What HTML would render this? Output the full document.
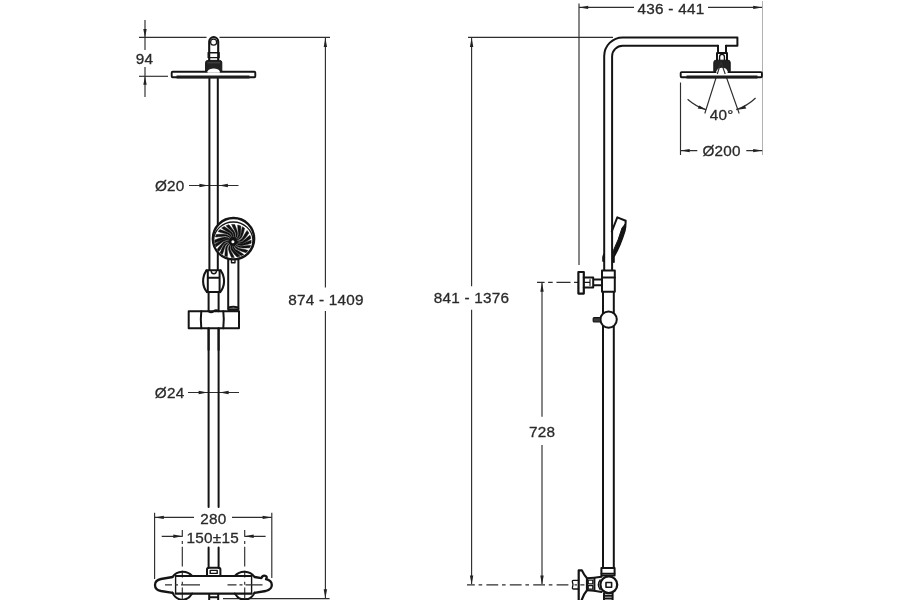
<!DOCTYPE html>
<html>
<head>
<meta charset="utf-8">
<title>Shower column dimensions</title>
<style>
html,body{margin:0;padding:0;background:#fff;}
body{width:900px;height:600px;overflow:hidden;font-family:"Liberation Sans",sans-serif;}
svg{display:block;}
text{font-family:"Liberation Sans",sans-serif;font-size:15.3px;letter-spacing:0.25px;fill:#2a2a2a;stroke:#2a2a2a;stroke-width:0.3px;}
.t{stroke:#2e2e2e;stroke-width:1.15;fill:none;}
.k{stroke:#141414;stroke-width:2;fill:none;stroke-linejoin:round;stroke-linecap:round;}
.m{stroke:#141414;stroke-width:1.4;fill:none;stroke-linejoin:round;stroke-linecap:round;}
.w{fill:#fff;}
.f{fill:#fff;}
.a{fill:#222;stroke:none;}
</style>
</head>
<body>
<svg width="900" height="600" viewBox="0 0 900 600" style="filter:grayscale(1)">
<rect width="900" height="600" fill="#fff"/>

<!-- ================= LEFT FIGURE : dimension lines ================= -->
<g class="t">
  <path d="M139 37.4H206.5M219.5 37.4H330"/>
  <path d="M139 76.3H168"/>
  <path d="M145 20V50M145 67V97"/>
  <path d="M189 185.5H238.5"/>
  <path d="M188 392.5H239"/>
  <path d="M155 517.4H194M232 517.4H271.7"/>
  <path d="M154.6 512.7V579M271.8 512.7V578"/>
  <path d="M161.7 536.3H182.3M244.7 536.3H265.6"/>
  <path d="M182.3 530V600M244.7 530V600" stroke-dasharray="6.7 4.3 3 2.8 19.6 4.3"/>
  <path d="M325.4 38V287.6M325.4 311V598"/>
  <path d="M223 598.6H329.6"/>
</g>
<g class="a">
  <path d="M145 37.4l-1.7 -8.5h3.4z"/>
  <path d="M145 76.3l-1.7 8.5h3.4z"/>
  <path d="M208.4 185.5l-9 -1.7v3.4z"/>
  <path d="M218.9 185.5l9 -1.7v3.4z"/>
  <path d="M207.6 392.5l-9 -1.7v3.4z"/>
  <path d="M219.6 392.5l9 -1.7v3.4z"/>
  <path d="M154.8 517.4l9 -1.7v3.4z"/>
  <path d="M271.6 517.4l-9 -1.7v3.4z"/>
  <path d="M182.3 536.3l-9 -1.7v3.4z"/>
  <path d="M244.7 536.3l9 -1.7v3.4z"/>
  <path d="M325.4 38l-1.7 9h3.4z"/>
  <path d="M325.4 598.3l-1.7 -9h3.4z"/>
</g>
<text x="144.4" y="63.7" text-anchor="middle">94</text>
<text x="169.8" y="191" text-anchor="middle">&#216;20</text>
<text x="169.6" y="398" text-anchor="middle">&#216;24</text>
<text x="213.4" y="524" text-anchor="middle">280</text>
<text x="212.7" y="543" text-anchor="middle">150&#177;15</text>
<text x="326" y="305" text-anchor="middle">874 - 1409</text>

<!-- ================= LEFT FIGURE : geometry ================= -->
<!-- riser pipe -->
<g class="k">
  <path d="M209.4 78V270M217.8 78V270"/>
  <path d="M208.6 292V507M218.6 292V507"/>
  <path d="M208.6 547.6V568M218.6 547.6V568"/>
</g>
<!-- top tip above head -->
<path class="k" d="M209.2 60V41.6a4.5 4.5 0 0 1 9 0V60" style="stroke-width:2.1"/>
<circle class="m" cx="213.6" cy="42.2" r="3" style="stroke-width:1.2"/>
<path class="m" d="M208.1 52.8H219.2M208.1 57.6H219.2M208.2 52.8V57.6M219.1 52.8V57.6"/>
<!-- head disc -->
<rect class="k f" x="171.7" y="71.7" width="83.6" height="5.6" rx="1" style="stroke-width:1.9"/>
<path d="M176.5 77.1H249.5" stroke="#1c1c1c" stroke-width="3" fill="none"/>
<!-- nut -->
<path d="M205.6 71V62.6q0 -2.2 2.2 -2.2h11.8q2.2 0 2.2 2.2V71z" fill="#222" stroke="#141414" stroke-width="1" stroke-linejoin="round"/>
<path class="w" d="M207.6 72.7V71.2q1.4 -2.6 6.1 -2.6t6.1 2.6V72.7z" stroke="none"/>
<path d="M207.5 62.8H220" stroke="#555" stroke-width="0.8" fill="none"/>

<!-- slider clamp -->
<path class="k" d="M206.4 270.6A18 18 0 0 0 207 292.2M220.7 270.6A18 18 0 0 1 220.2 292.2" style="stroke-width:2.1"/>
<path class="k" d="M206.4 270.3H220.7M207.8 277.7H219.6M207.8 270.6V292M219.6 270.6V292M207 292H220.2"/>
<path class="m" d="M211.2 271.4q0.3 2.4 2.6 2.4t2.6 -2.4"/>

<!-- hand shower handle -->
<path class="k" d="M228.2 259V309M238.4 259V309M228.2 307.6q5 -1.6 10.2 0"/>
<path d="M227.6 309.6H239.2" stroke="#141414" stroke-width="2.6" fill="none"/>
<path class="m" d="M231.5 260.5v2.2h3.5v-2.2"/>
<!-- holder -->
<path class="k f" d="M188.7 311.2H239V328.3H188.7z"/>
<path class="k" d="M201.3 311.2q-1 8 0 17.1M223.3 311.2q1 8 0 17.1M208.6 311.2q2.5 2 5 0t5 0"/>
<path class="k" d="M208.6 328.3V350M218.6 328.3V350"/>

<!-- hand shower head -->
<circle cx="233.5" cy="238.7" r="20.7" fill="#fff" stroke="#141414" stroke-width="2.3"/>
<ellipse cx="233.3" cy="240.4" rx="19.6" ry="18.4" fill="#fff" stroke="#141414" stroke-width="1.3"/>
<path d="M236.6 241.1 L239.4 240.5 L242.0 238.6 L243.8 235.7 L245.4 233.0 L247.1 230.5 L248.9 233.1 L247.0 235.7 L244.9 238.3 L242.4 240.7 L239.5 241.8 L236.6 241.7Z M236.5 242.1 L239.4 242.4 L242.4 241.4 L245.2 239.2 L247.6 237.1 L250.0 235.3 L251.0 238.3 L248.3 240.2 L245.4 242.0 L242.1 243.5 L239.0 243.6 L236.3 242.7Z M236.1 243.0 L238.9 243.9 L242.1 243.7 L245.3 242.5 L248.3 241.2 L251.2 240.2 L251.1 243.3 L248.0 244.3 L244.6 245.1 L241.1 245.7 L238.1 245.0 L235.7 243.4Z M235.3 243.8 L237.5 245.5 L240.6 246.3 L244.2 246.0 L247.5 245.6 L250.7 245.4 L249.8 247.8 L246.4 247.9 L242.9 248.0 L239.3 247.6 L236.6 246.2 L234.9 244.1Z M234.4 244.3 L235.9 246.5 L238.5 248.2 L241.9 249.0 L245.1 249.6 L248.0 250.5 L246.1 252.7 L243.0 251.7 L239.8 250.6 L236.6 249.1 L234.7 247.0 L233.8 244.5Z M233.3 244.5 L233.9 247.1 L235.7 249.4 L238.6 251.1 L241.3 252.8 L243.7 254.5 L241.2 255.8 L238.7 253.9 L236.2 252.0 L233.7 249.7 L232.6 247.1 L232.7 244.5Z M232.2 244.5 L232.1 247.1 L233.2 249.7 L235.7 252.1 L238.1 254.1 L240.2 256.2 L237.1 257.1 L234.9 254.8 L232.8 252.3 L231.0 249.5 L230.7 246.8 L231.6 244.3Z M231.2 244.1 L230.1 246.5 L230.2 249.4 L231.6 252.3 L233.1 254.9 L234.3 257.5 L231.5 257.5 L230.3 254.7 L229.1 251.8 L228.4 248.7 L229.0 245.9 L230.7 243.8Z M230.3 243.4 L228.3 245.3 L227.2 248.0 L227.3 251.1 L227.5 254.0 L227.3 256.7 L224.8 255.8 L225.0 252.9 L225.3 249.9 L225.9 246.8 L227.5 244.5 L230.0 243.0Z M229.7 242.6 L227.1 243.8 L225.2 246.1 L224.2 249.1 L223.3 251.9 L222.3 254.4 L220.1 252.8 L221.3 250.1 L222.6 247.3 L224.2 244.5 L226.7 242.8 L229.5 242.1Z M229.4 241.6 L226.5 242.1 L224.0 243.8 L222.1 246.6 L220.5 249.2 L218.8 251.5 L217.1 249.4 L219.0 246.9 L221.1 244.4 L223.6 242.1 L226.5 241.0 L229.4 241.1Z M229.5 240.6 L226.6 240.3 L223.6 241.3 L220.8 243.3 L218.3 245.2 L215.8 246.9 L215.0 244.1 L217.7 242.4 L220.6 240.7 L223.8 239.2 L227.0 239.1 L229.7 240.0Z M229.9 239.7 L227.2 238.7 L223.9 238.9 L220.7 240.4 L217.7 241.8 L214.8 242.9 L214.8 240.0 L217.9 238.8 L221.3 237.7 L224.8 237.0 L227.9 237.6 L230.3 239.2Z M230.7 238.8 L228.5 237.0 L225.4 236.1 L221.8 236.4 L218.5 236.8 L215.4 237.0 L216.4 234.4 L219.7 234.3 L223.2 234.3 L226.8 234.7 L229.5 236.3 L231.2 238.5Z M231.6 238.3 L230.1 236.0 L227.6 234.2 L224.1 233.3 L221.0 232.6 L218.1 231.6 L219.9 229.6 L222.9 230.6 L226.1 231.8 L229.3 233.3 L231.3 235.6 L232.1 238.2Z M232.6 238.1 L231.9 235.4 L230.0 233.1 L226.9 231.4 L224.1 229.8 L221.6 228.1 L224.2 226.5 L226.9 228.3 L229.6 230.3 L232.1 232.6 L233.3 235.3 L233.2 238.1Z M233.8 238.1 L233.9 235.4 L232.8 232.6 L230.4 230.1 L228.1 227.9 L226.1 225.7 L228.9 224.8 L231.0 227.3 L233.1 229.9 L234.9 232.8 L235.2 235.7 L234.3 238.3Z M234.8 238.5 L235.9 236.0 L235.8 233.0 L234.3 229.9 L232.8 227.1 L231.6 224.4 L234.7 224.5 L235.9 227.4 L237.0 230.5 L237.7 233.8 L237.0 236.7 L235.3 238.9Z M235.7 239.2 L237.6 237.1 L238.5 234.2 L238.1 230.9 L237.8 227.8 L237.7 225.0 L240.8 226.0 L240.8 229.1 L240.7 232.3 L240.1 235.6 L238.5 238.1 L236.1 239.7Z M236.3 240.1 L238.8 238.6 L240.5 236.1 L241.2 232.8 L241.7 229.7 L242.4 226.8 L244.6 228.3 L243.9 231.3 L242.9 234.5 L241.5 237.6 L239.2 239.6 L236.5 240.6Z" stroke="#111" stroke-width="0.5" fill="#111" stroke-linejoin="round"/>
<circle cx="233" cy="241.5" r="4.4" fill="#111"/>
<circle cx="232.9" cy="241.8" r="1.5" fill="#fff"/>

<!-- mixer (front view) -->
<g class="k">
  <!-- bulges -->
  <path d="M172.4 577a12.8 12.8 0 0 1 19.8 -1"/>
  <path d="M234.8 576a12.8 12.8 0 0 1 19.8 1"/>
  <path d="M172.4 592.6a12.8 12.8 0 0 0 9.9 7.4M192.2 593.6a12.8 12.8 0 0 1 -9.9 6.4"/>
  <path d="M234.8 593.6a12.8 12.8 0 0 0 9.9 6.4M254.6 592.6a12.8 12.8 0 0 1 -9.9 7.4"/>
  <!-- body top / bottom -->
  <path d="M175.6 576H251.6M175.6 593.6H251.6" style="stroke-width:2.2"/>
  <path d="M175.6 576V593.6M251.6 576V593.6" style="stroke-width:1.4"/>
  <!-- left handle -->
  <path d="M172.6 577l-11.6 2q-6 1.2 -6 6t6 6l11.6 1.8" style="stroke-width:2.3"/>
  <!-- right handle -->
  <path d="M254.6 577l6.8 1.2q1.2 -3.2 3.8 -2.4t0.8 3.4q5.8 1.3 5.8 5.8t-6 6l-11.2 1.8" style="stroke-width:2.3"/>
  <!-- top connector -->
  <path d="M207 576V569.5q0 -1.8 1.8 -1.8h9.8q1.8 0 1.8 1.8V576"/>
  <!-- bottom connector -->
  <path d="M209.2 594V600M218.2 594V600M209.2 597.2h9"/>
</g>
<path class="m" d="M210.2 570.4h7v3h-7z"/>
<g class="t" stroke="#222" stroke-width="1.2">
  <path d="M165 584.8H200" stroke-dasharray="7 3 3 3 19 0"/>
  <path d="M227.5 584.8H262.5" stroke-dasharray="9 3 3 3 17 0"/>
</g>

<!-- ================= RIGHT FIGURE : dimension lines ================= -->
<g class="t">
  <path d="M468 37.4H613"/>
  <path d="M471.6 38V286.3M471.6 309.7V584"/>
  <path d="M579 3.5V265"/>
  <path d="M579 7.4H634M708 7.4H762"/>
  <path d="M762.5 1V155" stroke="#a8a8a8" stroke-width="0.9"/>
  <path d="M680.5 82.5V155"/>
  <path d="M680.5 150.6H697.3M746.3 150.6H762.3"/>
  <path d="M721 62L704.8 113.5M721 62L739.2 113.5"/>
  <path d="M687.6 99.2A50 50 0 0 0 705.8 109.6M736.2 109.6A50 50 0 0 0 755.6 98"/>
  <path d="M537 282.4H578.4" stroke-dasharray="14 3.5 4.6 3.8" stroke-dashoffset="6.4"/>
  <path d="M542 283V416.7M542 445V584"/>
  <path d="M467 584.8H572" stroke-dasharray="11.8 3.8 3.6 4.2" stroke-dashoffset="4"/>
</g>
<g class="a">
  <path d="M471.6 38l-1.7 9h3.4z"/>
  <path d="M471.6 584.6l-1.7 -9h3.4z"/>
  <path d="M579.2 7.4l9 -1.7v3.4z"/>
  <path d="M762.2 7.4l-9 -1.7v3.4z"/>
  <path d="M680.7 150.6l9 -1.7v3.4z"/>
  <path d="M762.2 150.6l-9 -1.7v3.4z"/>
  <path d="M542 282.8l-1.7 9h3.4z"/>
  <path d="M542 584.6l-1.7 -9h3.4z"/>
  <path d="M706.3 109.8l-8.6 -1.2 1.6 -3.2z"/>
  <path d="M737.7 109.8l8.6 -1.2 -1.6 -3.2z"/>
</g>
<text x="471.5" y="303.4" text-anchor="middle">841 - 1376</text>
<text x="542.2" y="436.7" text-anchor="middle">728</text>
<text x="671" y="14" text-anchor="middle">436 - 441</text>
<text x="721.8" y="119.5" text-anchor="middle">40&#176;</text>
<text x="721.6" y="156" text-anchor="middle">&#216;200</text>

<!-- ================= RIGHT FIGURE : geometry ================= -->
<g class="k">
  <!-- bent pipe outer / inner -->
  <path d="M604.2 270V56a18.6 18.6 0 0 1 18.6 -18.6H737.4V45.8H726"/>
  <path d="M612.1 270V56.4a10.6 10.6 0 0 1 10.6 -10.6H718"/>
  <!-- drop -->
  <path d="M718 45.8V53M726 45.8V53M717 53V60M727 53V60M717 53H727"/>
  <!-- lower riser -->
  <path d="M603 291V568M613.8 291V568"/>
</g>
<path class="m" d="M719.6 60v-3.2a2.4 2.4 0 0 1 4.8 0V60"/>
<!-- head disc side -->
<rect class="k f" x="680.7" y="72.1" width="81.2" height="5.2" rx="1" style="stroke-width:1.9"/>
<path d="M686.5 76.9H757.5" stroke="#1c1c1c" stroke-width="3" fill="none"/>
<!-- nut side -->
<path d="M713.8 71.5V62.4q0 -2.2 2.2 -2.2h12q2.2 0 2.2 2.2V71.5z" fill="#222" stroke="#141414" stroke-width="1" stroke-linejoin="round"/>
<path class="w" d="M716.4 73.2V71.2q1.2 -3.4 5.6 -3.4t5.6 3.4V73.2z" stroke="none"/>
<g class="t"><path d="M721 62L717.3 74M721 62L725.2 74"/></g>

<!-- hand shower side view -->
<path class="k" d="M611.8 231.5L617.3 217.4L625.7 220.8Q625.6 227 624.6 231Q620 246 613.8 256.5V262"/>
<path d="M625.2 224Q625.4 228 624.6 231Q620 246 613.8 256.5L613.4 250.5Q618.5 240 622 228z" fill="#141414" stroke="#141414" stroke-width="1" stroke-linejoin="round"/>
<path class="k" d="M604 254.5l-0.8 2.5v4"/>

<!-- wall bracket -->
<g class="k">
  <path d="M602 270.6H614.8V291.8H602z" fill="#fff"/>
  <path d="M602 277.6H614.8"/>
  <path d="M578.4 272H583.8V293.6H578.4z" fill="#fff" style="stroke-width:2.2"/>
  <path d="M583.8 277.6H593.2V287.6H583.8M593.2 279.6H602M593.2 285.2H602"/>
  <path d="M584.5 282.4H590M590 279.5V285.5" style="stroke-width:1.1"/>
</g>
<!-- holder ball -->
<circle class="k f" cx="608.6" cy="319.6" r="8.2"/>
<path d="M600.6 317.6H594.2q-1 0 -1 1v2.4q0 1 1 1H600.6z" fill="#3a3a3a" stroke="#141414" stroke-width="1.2"/>

<!-- mixer side -->
<g class="k">
  <path d="M601.4 567.9H614.6V575.6H601.4z" fill="#fff"/>
  <path d="M601.4 573.6H614.6" style="stroke-width:1.6"/>
  <!-- throat -->
  <path d="M587 578.2Q594 578.2 601.5 576.8M587 590.3Q594 590.6 601.5 592"/>
  <path d="M594.4 578.4V590.4"/>
  <path d="M600.2 580Q596.6 584.7 600.2 589.6" style="stroke-width:1.4"/>
  <path d="M588.2 580.2h4.6v3.6h-4.6zM588.2 585.6h4.6v3.6h-4.6z" style="stroke-width:1.3"/>
  <circle cx="608.8" cy="584.7" r="8.4" fill="#fff" style="stroke-width:2.3"/>
  <path d="M606 582.5h5.6v4.8h-5.6z" style="stroke-width:1.6"/>
  <!-- bottom connector -->
  <path d="M604 593.3V600M612.6 593.3V600M604 595.8H612.6M604 598.4H612.6"/>
  <!-- flange -->
  <path d="M578.7 600V570.4H581.9Q584.2 575.4 587 578.2V590.3Q584.2 593.4 581.7 600" style="stroke-width:2.2"/>
  <!-- stub -->
  <path d="M578.6 580.4H573.4Q572.2 580.4 572.4 581.8L573 584.7L572.4 587.6Q572.2 589 573.4 589H578.6" style="stroke-width:1.3"/>
</g>
<path class="t" d="M574.5 584.8H577M580.3 584.8H584.4" stroke-width="1.1"/>
</svg>
</body>
</html>
